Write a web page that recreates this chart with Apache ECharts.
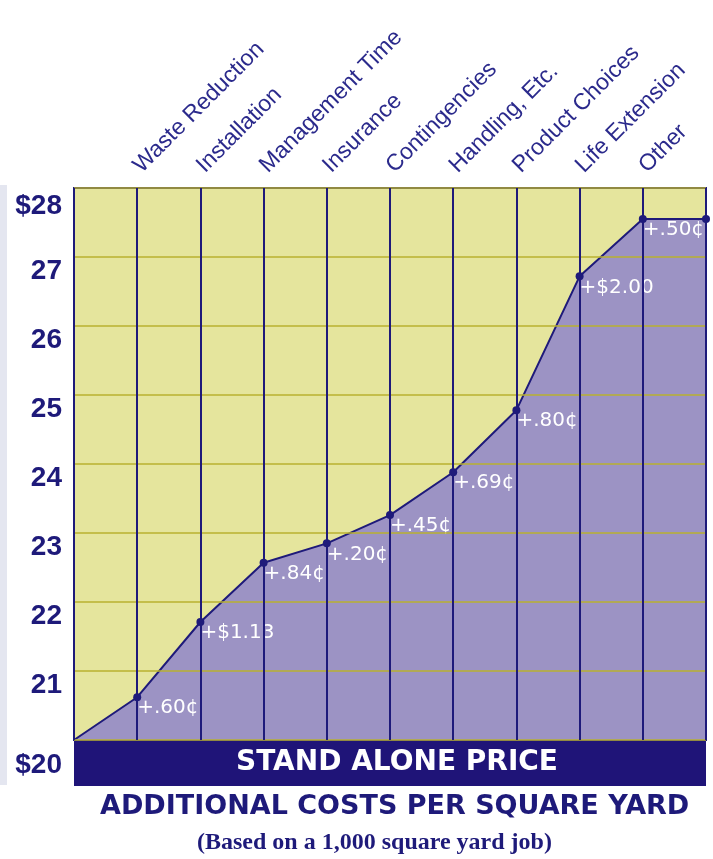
<!DOCTYPE html>
<html>
<head>
<meta charset="utf-8">
<script src="https://cdn.jsdelivr.net/npm/echarts@6/dist/echarts.min.js"></script>
<style>
html, body { margin: 0; padding: 0; background: #fff; }
#main { width: 713px; height: 859px; }
</style>
</head>
<body>
<div id="main"></div>
<script>
// cost categories (first and last slots are the chart edges)
var categories = ['', 'Waste Reduction', 'Installation', 'Management Time', 'Insurance',
    'Contingencies', 'Handling, Etc.', 'Product Choices', 'Life Extension', 'Other', ''];
// running price per square yard
var prices = [20, 20.62, 21.71, 22.57, 22.85, 23.26, 23.88, 24.78, 26.72, 27.55, 27.55];
// added cost at each step
var addLabels = ['', '+.60¢', '+$1.13', '+.84¢', '+.20¢', '+.45¢', '+.69¢', '+.80¢', '+$2.00', '+.50¢', ''];
// y tick labels, 20 .. 28
var yLabels = ['$20', '21', '22', '23', '24', '25', '26', '27', '$28'];

var navy = '#1e1a7a';
var myChart = echarts.init(document.getElementById('main'));

var seriesData = prices.map(function (v, i) {
    return {
        value: v,
        symbolSize: i === 0 ? 0 : 8,
        label: { formatter: addLabels[i] }
    };
});

var yRich = { color: navy, fontFamily: 'Liberation Sans', fontWeight: 'bold', fontSize: 28 };

var option = {
    backgroundColor: '#fff',
    grid: {
        left: 74, right: 7, top: 188, bottom: 119,
        show: true,
        backgroundColor: '#e5e59d',
        borderColor: navy,
        borderWidth: 2
    },
    xAxis: {
        type: 'category',
        position: 'top',
        boundaryGap: false,
        data: categories,
        z: 3,
        axisLine: { show: false },
        axisTick: { show: false },
        axisLabel: {
            interval: 0,
            rotate: -45,
            margin: 19,
            color: '#2b2a8c',
            fontFamily: 'Liberation Sans',
            fontSize: 23
        },
        splitLine: { show: true, lineStyle: { color: navy, width: 2 } }
    },
    yAxis: {
        type: 'value',
        min: 20,
        max: 28,
        interval: 1,
        z: 3,
        axisLine: { show: false },
        axisTick: { show: false },
        axisLabel: {
            margin: 12,
            verticalAlign: 'top',
            color: navy,
            fontFamily: 'Liberation Sans',
            fontWeight: 'bold',
            fontSize: 28,
            formatter: function (v) {
                var s = yLabels[Math.round(v - 20)];
                if (v === 28) return '{t|' + s + '}';
                if (v === 20) return '{b|' + s + '}';
                return s;
            },
            rich: {
                t: Object.assign({ padding: [4, 0, 0, 0] }, yRich),
                b: Object.assign({ padding: [11, 0, 0, 0] }, yRich)
            }
        },
        splitLine: { show: true, lineStyle: { color: '#b8b030', width: 1.5 } }
    },
    series: [{
        name: 'price',
        type: 'line',
        data: seriesData,
        z: 2,
        symbol: 'circle',
        itemStyle: { color: navy },
        lineStyle: { color: navy, width: 2 },
        areaStyle: { color: '#9c93c4', opacity: 1 },
        label: {
            show: true,
            position: [4, 5],
            color: '#fff',
            fontFamily: 'DejaVu Sans',
            fontSize: 20
        }
    }],
    graphic: [
        { type: 'rect', left: 0, top: 185, shape: { width: 7, height: 600 }, style: { fill: '#e4e6f0' } },
        { type: 'rect', left: 74, top: 740, shape: { width: 632, height: 46 }, style: { fill: '#1f1478' } },
        { type: 'text', left: 236, top: 749, style: {
            text: 'STAND ALONE PRICE', fill: '#fff', font: 'bold 28px "DejaVu Sans"' } },
        { type: 'text', left: 100, top: 793, style: {
            text: 'ADDITIONAL COSTS PER SQUARE YARD', fill: navy, font: 'bold 27px "DejaVu Sans"' } },
        { type: 'text', left: 197, top: 831, style: {
            text: '(Based on a 1,000 square yard job)', fill: navy, font: 'bold 24px "Liberation Serif"' } }
    ]
};
myChart.setOption(option);
</script>
</body>
</html>
